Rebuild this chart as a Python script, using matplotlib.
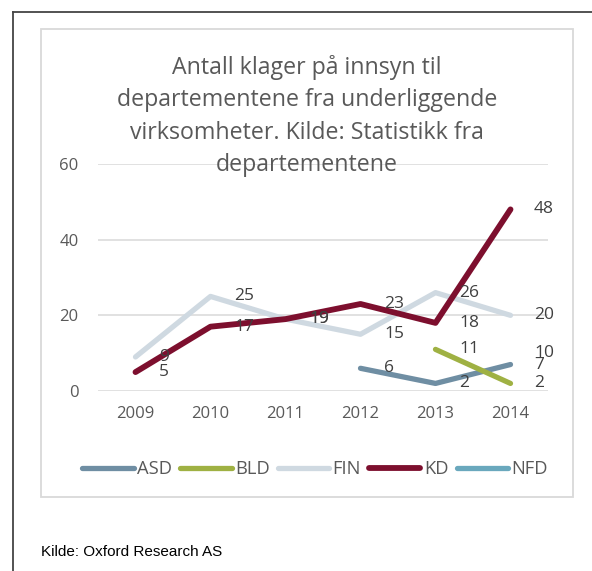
import matplotlib.pyplot as plt
import matplotlib.lines as mlines
import matplotlib.patches as mpatches
import numpy as np

years = ['2009', '2010', '2011', '2012', '2013', '2014']
series_names = ['ASD', 'BLD', 'FIN', 'KD', 'NFD']
asd = [None, None, None, 6, 2, 7]
bld = [None, None, None, None, 11, 2]
fin = [9, 25, 19, 15, 26, 20]
kd = [5, 17, 19, 23, 18, 48]
nfd = [None, None, None, None, None, 10]
colors = ['#6f8ea3', '#9fb143', '#cfd9e1', '#7d0f2e', '#6aa8bd']

title = ('Antall klager på innsyn til\ndepartementene fra underliggende\n'
         'virksomheter. Kilde: Statistikk fra\ndepartementene')
source = 'Kilde: Oxford Research AS'

plt.rcParams['font.family'] = ['Open Sans', 'DejaVu Sans']

fig = plt.figure(figsize=(5.92, 5.71), dpi=100)
W, H = 592, 571

# outer frame (top and left) and the chart box
fig.add_artist(mlines.Line2D([13 / W, 1], [1 - 12 / H, 1 - 12 / H], color='#444444', lw=1.3))
fig.add_artist(mlines.Line2D([13 / W, 13 / W], [0, 1 - 12 / H], color='#444444', lw=1.3))
fig.add_artist(mpatches.Rectangle((41 / W, 1 - 497 / H), (573 - 41) / W, (497 - 29) / H,
                                  fill=False, edgecolor='#d9d9d9', lw=1.3))

ax = fig.add_axes([98 / W, 1 - 391 / H, (548 - 98) / W, (391 - 164) / H])
x = np.arange(len(years))

all_series = [asd, bld, fin, kd, nfd]
for name, vals, c in zip(series_names, all_series, colors):
    y = np.array([np.nan if v is None else v for v in vals], dtype=float)
    lw = 4.2 if name == 'KD' else 3.8
    ax.plot(x, y, color=c, lw=lw, solid_capstyle='round', solid_joinstyle='round',
            label=name, zorder=3)
    for xi, v in zip(x, vals):
        if v is not None:
            ax.annotate(str(v), (xi, v), xytext=(17, 0), textcoords='offset points',
                        ha='left', va='center', fontsize=12.5, color='#404040', zorder=4)

ax.set_xlim(-0.5, 5.5)
ax.set_ylim(0, 60)
ax.set_yticks([0, 20, 40, 60])
ax.set_xticks(x)
ax.set_xticklabels(years)
ax.grid(axis='y', color='#d9d9d9', lw=1.1)
ax.set_axisbelow(True)
for s in ax.spines.values():
    s.set_visible(False)
ax.tick_params(length=0, labelsize=12, labelcolor='#595959')
ax.tick_params(axis='y', pad=14)
ax.tick_params(axis='x', pad=11)
ax.patch.set_alpha(0)

fig.text(307 / W, 1 - 116 / H, title, ha='center', va='center', fontsize=16.7,
         color='#595959', linespacing=1.48)

handles, labels = ax.get_legend_handles_labels()
fig.legend(handles, labels, loc='center', bbox_to_anchor=(315 / W, 1 - 469 / H), ncol=5,
           frameon=False, fontsize=13.2, labelcolor='#595959', handlelength=2.8,
           handletextpad=0.18, columnspacing=0.45)

fig.text(41 / W, 1 - 556 / H, source, ha='left', va='baseline', fontsize=11,
         family='Liberation Sans', color='black')

fig.savefig('out.png', dpi=100)
